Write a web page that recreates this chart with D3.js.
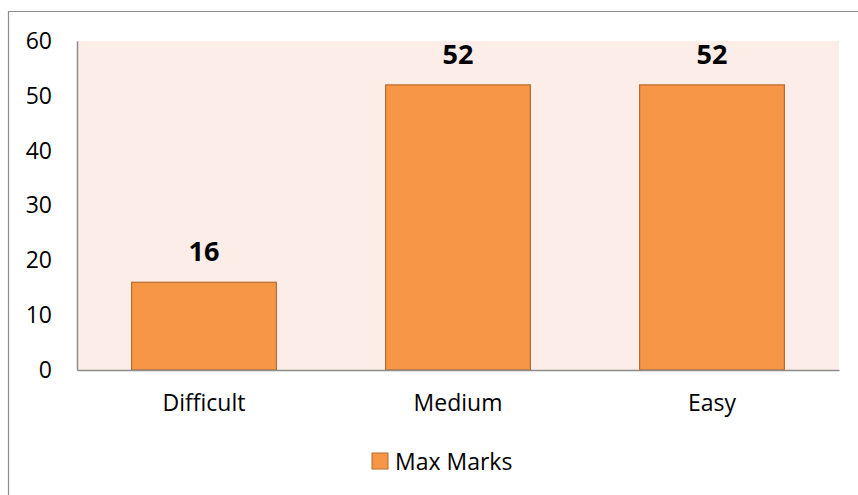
<!DOCTYPE html>
<html>
<head>
<meta charset="utf-8">
<script src="https://cdn.jsdelivr.net/npm/d3@7"></script>
<style>
  body { margin: 0; background: #fff; }
  svg { display: block; font-family: "Open Sans", "Noto Sans", sans-serif; }
</style>
</head>
<body>
<svg id="chart" width="858" height="495"></svg>
<script>
const categories = ['Difficult', 'Medium', 'Easy'];
const maxMarks = [16, 52, 52];
const yTicks = [0, 10, 20, 30, 40, 50, 60];
const seriesName = 'Max Marks';

const svg = d3.select('#chart');
const plot = { left: 77, right: 839, top: 41, bottom: 370 };

// outer frame (only top and left edges show in the crop)
svg.append('path')
  .attr('d', 'M8.5,495 V11.5 H858')
  .attr('fill', 'none')
  .attr('stroke', '#8c8c8c')
  .attr('stroke-width', 1.2);

const x = d3.scaleBand()
  .domain(categories)
  .range([plot.left, plot.right])
  .paddingInner(0.43)
  .paddingOuter(0.215);

const y = d3.scaleLinear().domain([0, 60]).range([plot.bottom, plot.top]);

svg.append('rect')
  .attr('x', plot.left)
  .attr('y', plot.top)
  .attr('width', plot.right - plot.left)
  .attr('height', plot.bottom - plot.top)
  .attr('fill', '#fcede8');

svg.selectAll('rect.bar')
  .data(maxMarks)
  .enter()
  .append('rect')
  .attr('class', 'bar')
  .attr('x', (d, i) => x(categories[i]))
  .attr('y', (d) => y(d))
  .attr('width', x.bandwidth())
  .attr('height', (d) => y(0) - y(d))
  .attr('fill', '#f79646')
  .attr('stroke', '#b96d2f')
  .attr('stroke-width', 1.2);

svg.selectAll('text.val')
  .data(maxMarks)
  .enter()
  .append('text')
  .attr('class', 'val')
  .attr('x', (d, i) => x(categories[i]) + x.bandwidth() / 2)
  .attr('y', (d) => y(d) - 21)
  .attr('text-anchor', 'middle')
  .attr('font-size', 27)
  .attr('font-weight', 'bold')
  .attr('fill', '#000')
  .text((d) => d);

const yAxis = svg.append('g')
  .attr('transform', `translate(${plot.left},0)`)
  .call(d3.axisLeft(y).tickValues(yTicks).tickSize(0).tickPadding(25));
yAxis.select('.domain').attr('stroke', '#8c8c8c').attr('stroke-width', 1.5);
yAxis.selectAll('text').attr('font-size', 23).attr('fill', '#000')
  .attr('font-family', '"Open Sans", sans-serif');

const xAxis = svg.append('g')
  .attr('transform', `translate(0,${plot.bottom})`)
  .call(d3.axisBottom(x).tickSize(0).tickPadding(25));
xAxis.select('.domain').attr('stroke', '#8c8c8c').attr('stroke-width', 1.5);
xAxis.selectAll('text').attr('font-size', 23).attr('fill', '#000')
  .attr('font-family', '"Open Sans", sans-serif');

const legend = svg.append('g').attr('transform', 'translate(372,453)');
legend.append('rect')
  .attr('width', 16)
  .attr('height', 16)
  .attr('fill', '#f79646')
  .attr('stroke', '#b96d2f')
  .attr('stroke-width', 1);
legend.append('text')
  .attr('x', 23)
  .attr('y', 17)
  .attr('font-size', 23)
  .attr('fill', '#000')
  .text(seriesName);
</script>
</body>
</html>
